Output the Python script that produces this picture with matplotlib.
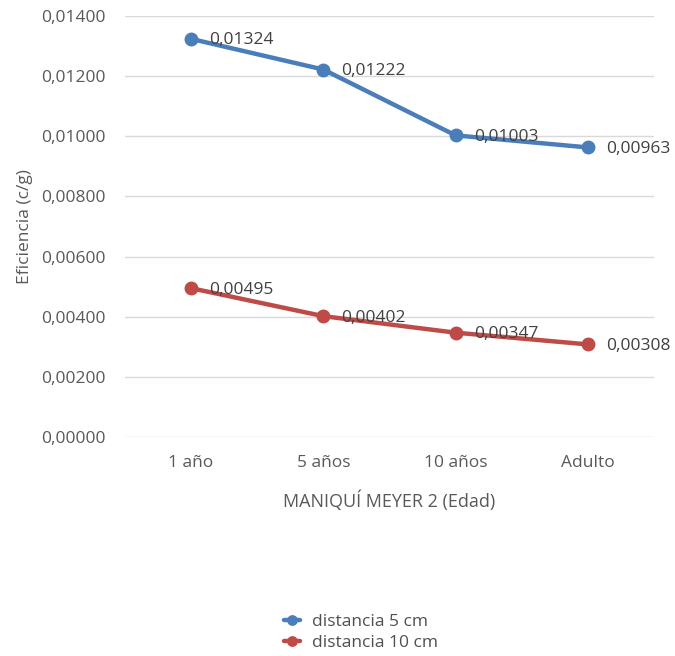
import matplotlib
matplotlib.use("Agg")
import matplotlib.pyplot as plt
from matplotlib.ticker import FuncFormatter

categories = ["1 año", "5 años", "10 años", "Adulto"]
dist_5cm = [0.01324, 0.01222, 0.01003, 0.00963]
dist_10cm = [0.00495, 0.00402, 0.00347, 0.00308]
y_ticks = [0.0, 0.002, 0.004, 0.006, 0.008, 0.010, 0.012, 0.014]

plt.rcParams["font.family"] = ["Open Sans", "DejaVu Sans"]

fig = plt.figure(figsize=(6.75, 6.56), dpi=100)
ax = fig.add_axes([0.185, 0.3338, 0.784, 0.6418])

x = list(range(len(categories)))
series = [("distancia 5 cm", dist_5cm, "#4a7ebb"), ("distancia 10 cm", dist_10cm, "#be4b48")]
for name, vals, col in series:
    ax.plot(x, vals, color=col, lw=3.2, marker="o", ms=9, label=name, solid_capstyle="round")
    for xi, v in zip(x, vals):
        ax.annotate(f"{v:.5f}".replace(".", ","), (xi, v), xytext=(13, -1),
                    textcoords="offset points", ha="left", va="center",
                    fontsize=12.5, color="#404040")

ax.set_xlim(-0.5, len(categories) - 0.5)
ax.set_ylim(0, 0.014)
ax.set_yticks(y_ticks)
ax.yaxis.set_major_formatter(FuncFormatter(lambda v, p: f"{v:.5f}".replace(".", ",")))
ax.set_xticks(x)
ax.set_xticklabels(categories)
ax.tick_params(length=0, labelsize=12.5, labelcolor="#595959")
ax.tick_params(axis="x", pad=13)
ax.tick_params(axis="y", pad=14)
ax.grid(axis="y", color="#d9d9d9", lw=1)
ax.set_axisbelow(True)
for s in ax.spines.values():
    s.set_visible(False)

ax.set_ylabel("Eficiencia (c/g)", fontsize=12.5, color="#595959", labelpad=6)
ax.set_xlabel("MANIQUÍ MEYER 2 (Edad)", fontsize=13, color="#595959", labelpad=14)

leg = fig.legend(loc="center", bbox_to_anchor=(0.535, 0.036), frameon=False,
                 fontsize=12.5, labelspacing=0.3, handlelength=0.9, handletextpad=0.7,
                 markerscale=0.75)
for t in leg.get_texts():
    t.set_color("#505050")

fig.savefig("out.png", dpi=100)
